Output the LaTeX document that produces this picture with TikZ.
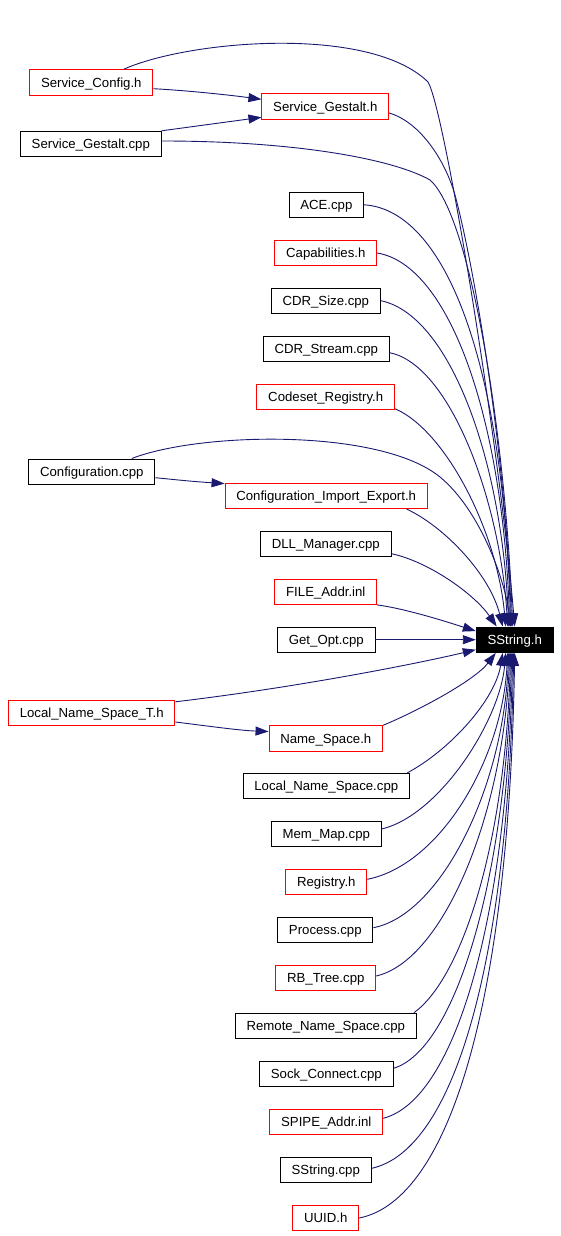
\documentclass[tikz,border=0pt]{standalone}
\usepackage{fontspec}
\setmainfont{Liberation Sans}
\usetikzlibrary{arrows.meta}
\definecolor{edgeblue}{RGB}{25,25,112}
\begin{document}
\begin{tikzpicture}[x=1pt,y=-1pt,
  file/.style={draw=black, line width=0.9pt, fill=white, minimum height=25.5pt,
    inner xsep=11.3pt, inner ysep=0pt, text height=9.5pt, text depth=0pt,
    font=\fontsize{13.2}{15}\selectfont},
  redfile/.style={file, draw=red},
  target/.style={file, fill=black, text=white},
  edge/.style={draw=edgeblue, line width=0.9pt, -{Triangle[length=13pt,width=9pt]}}]
\useasboundingbox (0,0) rectangle (560,1236);
\node[redfile] (SC) at (91.3,82.3) {Service\_Config.h};
\node[redfile] (SGh) at (325.3,106.3) {Service\_Gestalt.h};
\node[file] (SGc) at (90.8,144) {Service\_Gestalt.cpp};
\node[file] (ACE) at (326.3,204.8) {ACE.cpp};
\node[redfile] (Cap) at (325.8,253) {Capabilities.h};
\node[file] (CDRSize) at (325.8,300.7) {CDR\_Size.cpp};
\node[file] (CDRStream) at (326.3,348.7) {CDR\_Stream.cpp};
\node[redfile] (Codeset) at (325.7,396.7) {Codeset\_Registry.h};
\node[file] (Conf) at (91.8,471.7) {Configuration.cpp};
\node[redfile] (CIE) at (326.2,495.8) {Configuration\_Import\_Export.h};
\node[file] (DLL) at (325.8,543.7) {DLL\_Manager.cpp};
\node[redfile] (FILE) at (325.8,591.7) {FILE\_Addr.inl};
\node[file] (GetOpt) at (326.3,639.7) {Get\_Opt.cpp};
\node[target] (SS) at (514.7,639.7) {SString.h};
\node[redfile] (LNST) at (91.7,713) {Local\_Name\_Space\_T.h};
\node[redfile] (NS) at (325.8,738.5) {Name\_Space.h};
\node[file] (LNS) at (326.3,786) {Local\_Name\_Space.cpp};
\node[file] (MemMap) at (326.3,834) {Mem\_Map.cpp};
\node[redfile] (Registry) at (326.3,882) {Registry.h};
\node[file] (Process) at (325.3,930) {Process.cpp};
\node[redfile] (RBTree) at (325.8,978) {RB\_Tree.cpp};
\node[file] (Remote) at (325.8,1026) {Remote\_Name\_Space.cpp};
\node[file] (Sock) at (326.3,1074) {Sock\_Connect.cpp};
\node[redfile] (SPIPE) at (326.3,1122) {SPIPE\_Addr.inl};
\node[file] (SStr) at (325.8,1170) {SString.cpp};
\node[redfile] (UUID) at (325.8,1218) {UUID.h};
% edges into Service_Gestalt.h
\draw[edge] ([yshift=-6.4pt]SC.east) .. controls +(37,2) and +(-30,-4) .. ([yshift=7pt]SGh.west);
\draw[edge] (SGc.north east) -- ([yshift=-11pt]SGh.west);
% Configuration.cpp -> Configuration_Import_Export.h
\draw[edge] ([yshift=-6pt]Conf.east) .. controls +(30,3) and +(-30,-2) .. ([yshift=-1pt]CIE.north west);
% Local_Name_Space_T.h -> Name_Space.h
\draw[edge] ([yshift=-9pt]LNST.east) .. controls +(40,5) and +(-28,-1) .. ([yshift=7pt]NS.west);
% edges into SString.h from above
\draw[edge] ([xshift=32.7pt]SC.north) .. controls (190,40) and (370,25) .. (428,82)
  .. controls (445,110) and (500,450) .. (SS.north);
\draw[edge] ([yshift=3pt]SGc.east) .. controls (300,141) and (395,160) .. (430,180)
  .. controls (470,215) and (505,430) .. ([xshift=-2pt]SS.north);
\draw[edge] ([yshift=-6.7pt]SGh.east) .. controls (420,122) and (445,160) .. (455,195)
  .. controls (475,270) and (505,450) .. ([xshift=-3pt]SS.north);
\draw[edge] ([xshift=40pt]Conf.north) .. controls (200,432) and (380,428) .. (440,477)
  .. controls (480,510) and (505,580) .. ([xshift=-4pt]SS.north);
\draw[edge] (ACE.east) .. controls (445,210) and (503,360) .. ([xshift=-4pt]SS.north);
\draw[edge] (Cap.east) .. controls (450,265) and (503,420) .. ([xshift=-5pt]SS.north);
\draw[edge] (CDRSize.east) .. controls (450,315) and (502,460) .. ([xshift=-6pt]SS.north);
\draw[edge] ([yshift=-4pt]CDRStream.east) .. controls (450,365) and (500,500) .. ([xshift=-7pt]SS.north);
\draw[edge] ([yshift=-12pt]Codeset.east) .. controls (445,430) and (497,530) .. ([xshift=-9pt]SS.north);
\draw[edge] ([xshift=-21.3pt]CIE.south east) .. controls (445,527) and (490,575) .. ([xshift=-12pt]SS.north);
\draw[edge] ([yshift=-10pt]DLL.east) .. controls (430,562) and (475,595) .. ([xshift=-18pt]SS.north);
% edges into SString.h from the left
\draw[edge] (FILE.south east) .. controls +(30,4) and +(-25,-8) .. ([yshift=8.6pt]SS.west);
\draw[edge] (GetOpt.east) -- (SS.west);
\draw[edge] ([yshift=-2pt]LNST.north east) .. controls (300,687) and (420,663) .. ([yshift=-10pt]SS.west);
% edges into SString.h from below
\draw[edge] (NS.north east) .. controls (420,710) and (475,680) .. ([xshift=-19pt]SS.south);
\draw[edge] ([xshift=-2.6pt]LNS.north east) .. controls (450,750) and (495,700) .. ([xshift=-12pt]SS.south);
\draw[edge] ([yshift=5pt]MemMap.east) .. controls (440,815) and (500,720) .. ([xshift=-9pt]SS.south);
\draw[edge] ([yshift=2.7pt]Registry.east) .. controls (440,865) and (502,760) .. ([xshift=-7pt]SS.south);
\draw[edge] ([yshift=2.3pt]Process.east) .. controls (440,915) and (503,790) .. ([xshift=-6pt]SS.south);
\draw[edge] ([yshift=2pt]RBTree.east) .. controls (445,960) and (504,810) .. ([xshift=-5pt]SS.south);
\draw[edge] ([xshift=-3pt]Remote.north east) .. controls (460,980) and (505,850) .. ([xshift=-4pt]SS.south);
\draw[edge] ([yshift=5.7pt]Sock.east) .. controls (455,1050) and (506,880) .. ([xshift=-3pt]SS.south);
\draw[edge] ([yshift=3.7pt]SPIPE.east) .. controls (455,1100) and (507,920) .. ([xshift=-2pt]SS.south);
\draw[edge] ([yshift=1.7pt]SStr.east) .. controls (455,1150) and (508,960) .. ([xshift=-1pt]SS.south);
\draw[edge] (UUID.east) .. controls (450,1200) and (509,1000) .. (SS.south);
\end{tikzpicture}
\end{document}
